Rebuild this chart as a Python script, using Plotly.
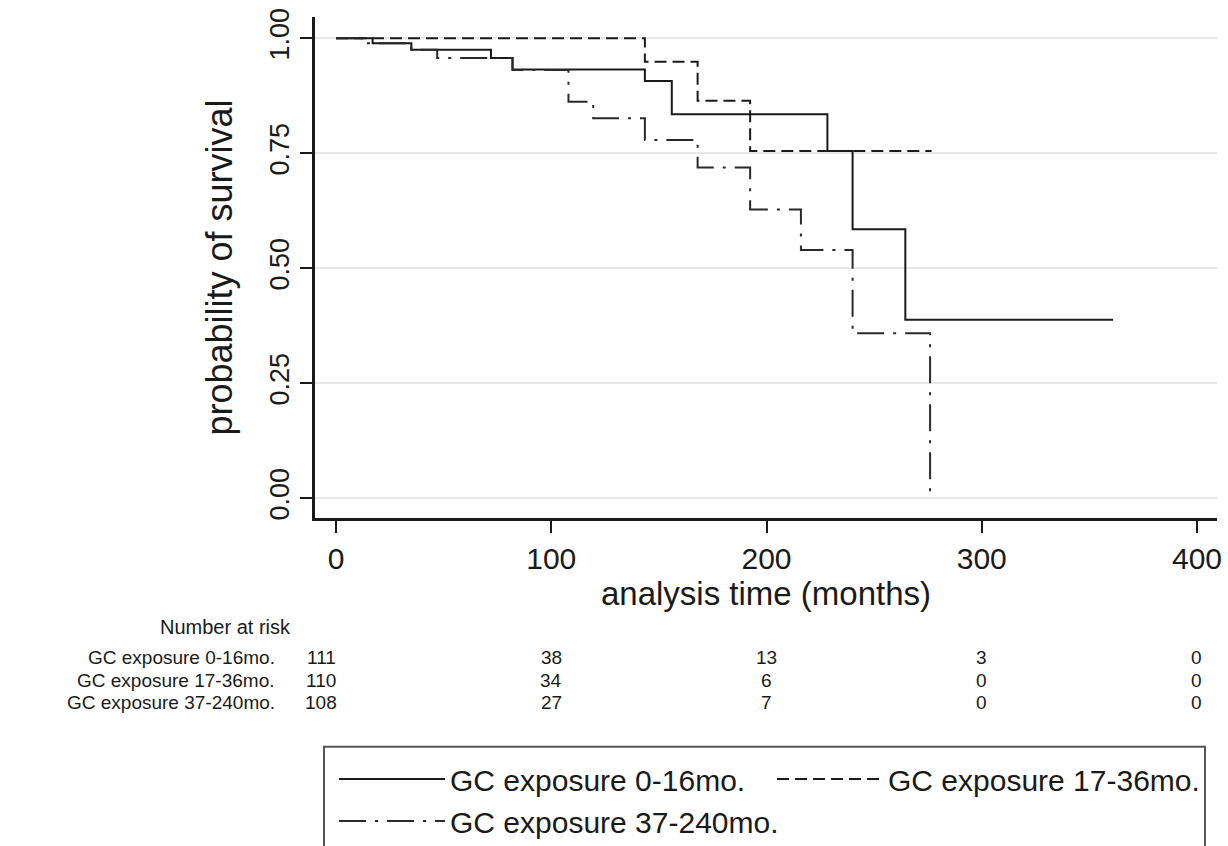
import plotly.graph_objects as go

# ---- data ----
t_0_16 = [0, 17, 35, 72, 82, 143.5, 156, 228.3, 240, 264.5, 361]
s_0_16 = [1.0, 0.989, 0.975, 0.957, 0.932, 0.907, 0.835, 0.755, 0.585, 0.388, 0.388]

t_17_36 = [0, 143.5, 168, 192.4, 276.7]
s_17_36 = [1.0, 0.949, 0.864, 0.755, 0.755]

t_37_240 = [0, 12, 35, 47, 82, 108, 119.5, 143.5, 168, 192.4, 216, 240, 276]
s_37_240 = [1.0, 0.989, 0.975, 0.957, 0.931, 0.862, 0.826, 0.779, 0.719, 0.628, 0.54, 0.359, 0.0]

group_names = ["GC exposure 0-16mo.", "GC exposure 17-36mo.", "GC exposure 37-240mo."]
risk_times = [0, 100, 200, 300, 400]
risk_0_16 = [111, 38, 13, 3, 0]
risk_17_36 = [110, 34, 6, 0, 0]
risk_37_240 = [108, 27, 7, 0, 0]

x_ticks = [0, 100, 200, 300, 400]
y_ticks = [0, 0.25, 0.5, 0.75, 1.0]
y_tick_text = ["0.00", "0.25", "0.50", "0.75", "1.00"]

FONT = "Liberation Sans, Arial, Helvetica, sans-serif"
INK = "#1a1a1a"

fig = go.Figure()
fig.add_trace(go.Scatter(x=t_0_16, y=s_0_16, mode="lines", name=group_names[0],
                         line=dict(shape="hv", color=INK, width=2)))
fig.add_trace(go.Scatter(x=t_17_36, y=s_17_36, mode="lines", name=group_names[1],
                         line=dict(shape="hv", color=INK, width=2, dash="12px,6px")))
fig.add_trace(go.Scatter(x=t_37_240, y=s_37_240, mode="lines", name=group_names[2],
                         line=dict(shape="hv", color="#2a2a2a", width=2, dash="27px,9px,3px,9px")))

# number-at-risk table
TABLE_SIZE = 19
annotations = [dict(text="Number at risk", xref="paper", yref="paper", x=-0.024, y=-0.2176,
                    xanchor="right", yanchor="middle", showarrow=False,
                    font=dict(family=FONT, size=TABLE_SIZE + 1, color=INK))]
row_y = [-0.2794, -0.3234, -0.3673]
for name, vals, ry in zip(group_names, [risk_0_16, risk_17_36, risk_37_240], row_y):
    annotations.append(dict(text=name, xref="paper", yref="paper", x=-0.042, y=ry,
                            xanchor="right", yanchor="middle", showarrow=False,
                            font=dict(family=FONT, size=TABLE_SIZE, color=INK)))
    for i, (tv, v) in enumerate(zip(risk_times, vals)):
        annotations.append(dict(text=str(v), xref="x", yref="paper", x=tv, y=ry,
                                xanchor="center", yanchor="middle", showarrow=False,
                                xshift=-15 if i == 0 else 0,
                                font=dict(family=FONT, size=TABLE_SIZE, color=INK)))

# legend frame (runs off the bottom edge as in the reference)
shapes = [dict(type="rect", xref="paper", yref="paper", x0=0.00998, x1=0.9867,
               y0=-0.7026, y1=-0.4565, line=dict(color="#555555", width=2),
               fillcolor="rgba(0,0,0,0)", layer="above")]

fig.update_layout(
    width=1228, height=846,
    margin=dict(l=315, r=11, t=17, b=328, autoexpand=False),
    paper_bgcolor="white", plot_bgcolor="white",
    font=dict(family=FONT, color=INK),
    showlegend=True,
    legend=dict(orientation="h", x=0.0211, y=-0.469, xanchor="left", yanchor="top",
                font=dict(family=FONT, size=30, color=INK),
                borderwidth=0, bgcolor="rgba(0,0,0,0)",
                itemwidth=106, entrywidth=317, entrywidthmode="pixels",
                tracegroupgap=0),
    annotations=annotations,
    shapes=shapes,
    xaxis=dict(range=[-9.76, 409.3], tickvals=x_ticks, ticks="outside", ticklen=12,
               tickwidth=1.5, tickcolor=INK, showline=True, linewidth=2.5, linecolor=INK,
               showgrid=False, zeroline=False,
               tickfont=dict(family=FONT, size=30, color=INK),
               title=dict(text="analysis time (months)", standoff=8,
                          font=dict(family=FONT, size=33, color=INK))),
    yaxis=dict(range=[-0.0428, 1.0463], tickvals=y_ticks, ticktext=y_tick_text,
               tickangle=-90, ticks="outside", ticklen=12, tickwidth=1.5, tickcolor=INK,
               showline=True, linewidth=2.5, linecolor=INK,
               showgrid=True, gridcolor="#e8e8e8", gridwidth=1.5, zeroline=False,
               tickfont=dict(family=FONT, size=27, color=INK),
               title=dict(text="probability of survival", standoff=22,
                          font=dict(family=FONT, size=36, color=INK))),
)

fig.write_html("out.html",
               config={"displayModeBar": False},
               post_script="document.body.style.margin='0';document.body.style.overflow='hidden';")
